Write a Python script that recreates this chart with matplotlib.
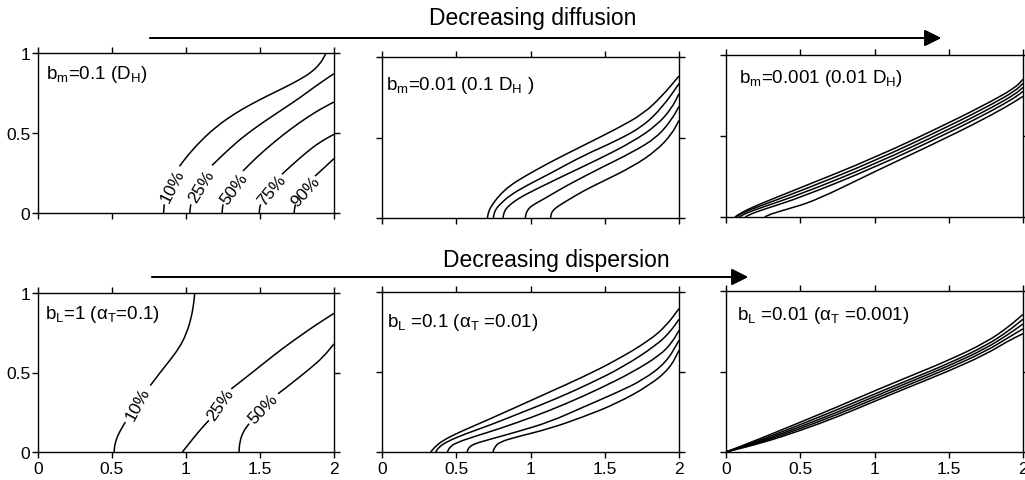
import numpy as np
import matplotlib
matplotlib.use('Agg')
import matplotlib.pyplot as plt
from matplotlib.path import Path
from matplotlib.patches import PathPatch

plt.rcParams['font.family'] = ['Liberation Sans', 'DejaVu Sans']
plt.rcParams['mathtext.fontset'] = 'custom'
plt.rcParams['mathtext.rm'] = 'Liberation Sans'
plt.rcParams['mathtext.it'] = 'Liberation Sans:italic'
plt.rcParams['axes.linewidth'] = 1.0

nan = np.nan

# contour levels (only the first panel of each row is labelled)
levels_top = ['10%', '25%', '50%', '75%', '90%']
levels_bot = ['10%', '25%', '50%']

# top-left: b_m = 0.1 (NaN = gap where the label sits)
tl_x = [[0.848, 0.851, 0.853, nan, 0.956, 1.008, 1.098, 1.21, 1.322, 1.434, 1.547, 1.659, 1.771, 1.85, 1.906, 1.933, 1.946],
        [1.026, 1.028, 1.033, nan, 1.176, 1.322, 1.434, 1.547, 1.659, 1.771, 1.883, 2.0],
        [1.244, 1.246, 1.25, nan, 1.385, 1.479, 1.591, 1.704, 1.816, 1.906, 2.0],
        [1.495, 1.497, 1.504, nan, 1.648, 1.726, 1.816, 1.906, 2.0],
        [1.731, 1.733, 1.74, nan, 1.872, 1.939, 2.0]]
tl_y = [[0, 0.027, 0.054, nan, 0.292, 0.356, 0.45, 0.544, 0.617, 0.677, 0.731, 0.781, 0.835, 0.881, 0.933, 0.975, 1.0],
        [0, 0.027, 0.054, nan, 0.298, 0.427, 0.51, 0.583, 0.652, 0.721, 0.798, 0.871],
        [0, 0.027, 0.054, nan, 0.2625, 0.35, 0.44, 0.523, 0.596, 0.648, 0.694],
        [0, 0.027, 0.054, nan, 0.242, 0.308, 0.381, 0.444, 0.492],
        [0, 0.027, 0.054, nan, 0.231, 0.2875, 0.34]]
tl_lab_x = [0.911, 1.102, 1.327, 1.58, 1.81]
tl_lab_y = [0.171, 0.171, 0.156, 0.146, 0.14]
tl_lab_rot = [63, 58, 53, 50, 48]

# top-middle: b_m = 0.01
tm_x = [[0.71, 0.715, 0.73, 0.76, 0.80, 0.86, 0.95, 1.13, 1.355, 1.58, 1.76, 1.89, 2.0],
        [0.75, 0.755, 0.77, 0.80, 0.86, 0.97, 1.13, 1.355, 1.58, 1.76, 1.89, 2.0],
        [0.815, 0.82, 0.835, 0.865, 0.93, 1.04, 1.24, 1.47, 1.69, 1.85, 1.95, 2.0],
        [0.965, 0.97, 0.985, 1.01, 1.09, 1.24, 1.47, 1.69, 1.85, 1.95, 2.0],
        [1.135, 1.14, 1.155, 1.18, 1.25, 1.36, 1.47, 1.69, 1.85, 1.95, 2.0]]
tm_y = [[0, 0.03, 0.065, 0.105, 0.15, 0.2, 0.253, 0.346, 0.45, 0.554, 0.647, 0.761, 0.882],
        [0, 0.03, 0.06, 0.09, 0.14, 0.2, 0.275, 0.388, 0.48, 0.571, 0.69, 0.834],
        [0, 0.03, 0.058, 0.085, 0.128, 0.18, 0.27, 0.37, 0.475, 0.575, 0.68, 0.772],
        [0, 0.03, 0.055, 0.078, 0.118, 0.2, 0.31, 0.41, 0.5, 0.61, 0.693],
        [0, 0.03, 0.05, 0.07, 0.11, 0.17, 0.22, 0.32, 0.42, 0.52, 0.606]]

# top-right: b_m = 0.001
tr_x = [[0.06, 0.1, 0.2, 0.5, 1.0, 1.5, 1.8, 1.95, 2.0],
        [0.07, 0.11, 0.22, 0.5, 1.0, 1.5, 1.8, 1.95, 2.0],
        [0.09, 0.13, 0.25, 0.5, 1.0, 1.5, 1.8, 1.95, 2.0],
        [0.13, 0.17, 0.28, 0.5, 1.0, 1.5, 1.8, 1.95, 2.0],
        [0.26, 0.3, 0.4, 0.6, 1.0, 1.5, 1.8, 1.95, 2.0]]
tr_y = [[0, 0.025, 0.07, 0.18, 0.365, 0.58, 0.72, 0.8, 0.85],
        [0, 0.025, 0.065, 0.16, 0.345, 0.56, 0.70, 0.78, 0.825],
        [0, 0.022, 0.062, 0.14, 0.325, 0.54, 0.68, 0.76, 0.80],
        [0, 0.02, 0.055, 0.12, 0.305, 0.52, 0.66, 0.74, 0.775],
        [0, 0.018, 0.045, 0.1, 0.28, 0.495, 0.635, 0.715, 0.745]]

# bottom-left: b_L = 1
bl_x = [[0.514, 0.518, 0.534, 0.563, 0.590, nan, 0.759, 0.822, 0.89, 0.957, 1.002, 1.034, 1.052, 1.059],
        [0.975, 1.002, 1.092, 1.155, nan, 1.306, 1.43, 1.543, 1.655, 1.768, 1.88, 2.0],
        [1.358, 1.363, 1.385, 1.426, nan, 1.622, 1.723, 1.836, 1.926, 2.0]]
bl_y = [[0, 0.042, 0.094, 0.146, 0.188, nan, 0.418, 0.496, 0.575, 0.659, 0.743, 0.837, 0.931, 1.0],
        [0, 0.031, 0.136, 0.199, nan, 0.397, 0.487, 0.571, 0.653, 0.728, 0.801, 0.872],
        [0, 0.063, 0.126, 0.178, nan, 0.366, 0.439, 0.523, 0.596, 0.68]]
bl_lab_x = [0.673, 1.23, 1.523]
bl_lab_y = [0.303, 0.298, 0.272]
bl_lab_rot = [62, 55, 46]

# bottom-middle: b_L = 0.1
bm_x = [[0.328, 0.355, 0.411, 0.523, 0.68, 0.905, 1.129, 1.354, 1.578, 1.802, 1.915, 2.0],
        [0.361, 0.384, 0.433, 0.545, 0.725, 0.949, 1.174, 1.398, 1.623, 1.847, 1.94, 2.0],
        [0.44, 0.456, 0.5, 0.613, 0.792, 1.017, 1.241, 1.466, 1.69, 1.87, 1.95, 2.0],
        [0.572, 0.586, 0.624, 0.725, 0.905, 1.129, 1.354, 1.578, 1.758, 1.915, 2.0],
        [0.747, 0.759, 0.792, 0.905, 1.129, 1.354, 1.578, 1.802, 1.937, 2.0]]
bm_y = [[0, 0.031, 0.073, 0.125, 0.1875, 0.281, 0.375, 0.469, 0.573, 0.698, 0.79, 0.896],
        [0, 0.031, 0.0625, 0.108, 0.167, 0.25, 0.333, 0.427, 0.531, 0.667, 0.75, 0.829],
        [0, 0.031, 0.058, 0.094, 0.146, 0.219, 0.302, 0.396, 0.5, 0.604, 0.68, 0.76],
        [0, 0.031, 0.052, 0.079, 0.125, 0.1875, 0.28, 0.37, 0.45, 0.56, 0.698],
        [0, 0.031, 0.0625, 0.094, 0.146, 0.219, 0.302, 0.417, 0.521, 0.635]]

# bottom-right: b_L = 0.01
br_x = [[0, 0.25, 0.5, 0.75, 1.0, 1.25, 1.5, 1.75, 1.9, 2.0]] * 5
br_y = [[0, 0.09, 0.185, 0.28, 0.38, 0.475, 0.57, 0.68, 0.775, 0.855],
        [0, 0.08, 0.17, 0.263, 0.36, 0.455, 0.55, 0.66, 0.75, 0.825],
        [0, 0.072, 0.157, 0.247, 0.345, 0.44, 0.535, 0.643, 0.73, 0.795],
        [0, 0.065, 0.145, 0.233, 0.33, 0.425, 0.52, 0.626, 0.71, 0.765],
        [0, 0.058, 0.133, 0.218, 0.315, 0.41, 0.503, 0.607, 0.69, 0.735]]

titles = [r'b$_\mathrm{m}$=0.1 (D$_\mathrm{H}$)',
          r'b$_\mathrm{m}$=0.01 (0.1 D$_\mathrm{H}$ )',
          r'b$_\mathrm{m}$=0.001 (0.01 D$_\mathrm{H}$)',
          r'b$_\mathrm{L}$=1 (α$_\mathrm{T}$=0.1)',
          r'b$_\mathrm{L}$ =0.1 (α$_\mathrm{T}$ =0.01)',
          r'b$_\mathrm{L}$ =0.01 (α$_\mathrm{T}$ =0.001)']
title_pos = [(0.027, 0.844), (0.015, 0.80), (0.045, 0.833),
             (0.025, 0.843), (0.017, 0.79), (0.037, 0.825)]

xticks = [0, 0.5, 1, 1.5, 2]
xticklabels = ['0', '0.5', '1', '1.5', '2']
yticks = [0, 0.5, 1]
yticklabels = ['0', '0.5', '1']

W, H = 1025, 481
# axes boxes in pixels: left, top, right, bottom
boxes = [(38, 54, 334, 214), (382, 58, 679, 219), (726, 56, 1023, 218),
         (38, 294, 334, 453), (382, 293, 679, 453), (726, 292, 1023, 453)]


def smooth_path(xs, ys):
    # quadratic B-spline drawn through midpoints, split at NaN gaps
    verts, codes = [], []
    xs = np.asarray(xs, float)
    ys = np.asarray(ys, float)
    breaks = np.where(np.isnan(xs))[0]
    starts = np.r_[0, breaks + 1]
    ends = np.r_[breaks, len(xs)]
    for s, e in zip(starts, ends):
        p = np.column_stack([xs[s:e], ys[s:e]])
        if len(p) < 3:
            verts += list(p)
            codes += [Path.MOVETO] + [Path.LINETO] * (len(p) - 1)
            continue
        verts.append(p[0]); codes.append(Path.MOVETO)
        verts.append((p[0] + p[1]) / 2); codes.append(Path.LINETO)
        for i in range(1, len(p) - 1):
            verts.append(p[i]); codes.append(Path.CURVE3)
            verts.append((p[i] + p[i + 1]) / 2); codes.append(Path.CURVE3)
        verts.append(p[-1]); codes.append(Path.LINETO)
    return Path(verts, codes)


fig = plt.figure(figsize=(W / 100, H / 100), dpi=100)

curves = [(tl_x, tl_y), (tm_x, tm_y), (tr_x, tr_y),
          (bl_x, bl_y), (bm_x, bm_y), (br_x, br_y)]

axes = []
for i, (L, T, R, B) in enumerate(boxes):
    ax = fig.add_axes([L / W, 1 - B / H, (R - L) / W, (B - T) / H])
    xs, ys = curves[i]
    for cx, cy in zip(xs, ys):
        ax.add_patch(PathPatch(smooth_path(cx, cy), facecolor='none',
                               edgecolor='black', lw=1.1, capstyle='butt'))
    ax.set_xlim(0, 2)
    ax.set_ylim(0, 1)
    ax.set_xticks(xticks)
    ax.set_yticks(yticks)
    ax.tick_params(direction='out', length=4, width=1.0, top=True, right=True,
                   labelsize=12.5, pad=1.5, colors='black')
    ax.tick_params(axis='x', pad=2.5)
    if i >= 3:
        ax.set_xticklabels(xticklabels)
    else:
        ax.set_xticklabels([])
    if i % 3 == 0:
        ax.set_yticklabels(yticklabels)
    else:
        ax.set_yticklabels([])
    ax.text(title_pos[i][0], title_pos[i][1], titles[i], transform=ax.transAxes,
            fontsize=13.5, ha='left', va='baseline')
    axes.append(ax)

for lab, lx, ly, rot in zip(levels_top, tl_lab_x, tl_lab_y, tl_lab_rot):
    axes[0].text(lx, ly, lab, rotation=rot, rotation_mode='anchor',
                 ha='center', va='center', fontsize=12.5)
for lab, lx, ly, rot in zip(levels_bot, bl_lab_x, bl_lab_y, bl_lab_rot):
    axes[3].text(lx, ly, lab, rotation=rot, rotation_mode='anchor',
                 ha='center', va='center', fontsize=12.5)

# arrows and row headings
arrow_kw = dict(arrowstyle='-|>,head_length=0.5,head_width=0.25', mutation_scale=20,
                lw=1.3, color='black', shrinkA=0, shrinkB=0)
fig.add_artist(plt.annotate('', xy=(941 / W, 1 - 39 / H), xytext=(150 / W, 1 - 39 / H),
                            xycoords='figure fraction', textcoords='figure fraction',
                            arrowprops=arrow_kw))
fig.add_artist(plt.annotate('', xy=(748 / W, 1 - 278 / H), xytext=(152 / W, 1 - 278 / H),
                            xycoords='figure fraction', textcoords='figure fraction',
                            arrowprops=arrow_kw))
fig.text(533 / W, 1 - 18 / H, 'Decreasing diffusion', ha='center', va='center', fontsize=16.5)
fig.text(556 / W, 1 - 261 / H, 'Decreasing dispersion', ha='center', va='center', fontsize=16.5)

fig.savefig('out.png', dpi=100)
